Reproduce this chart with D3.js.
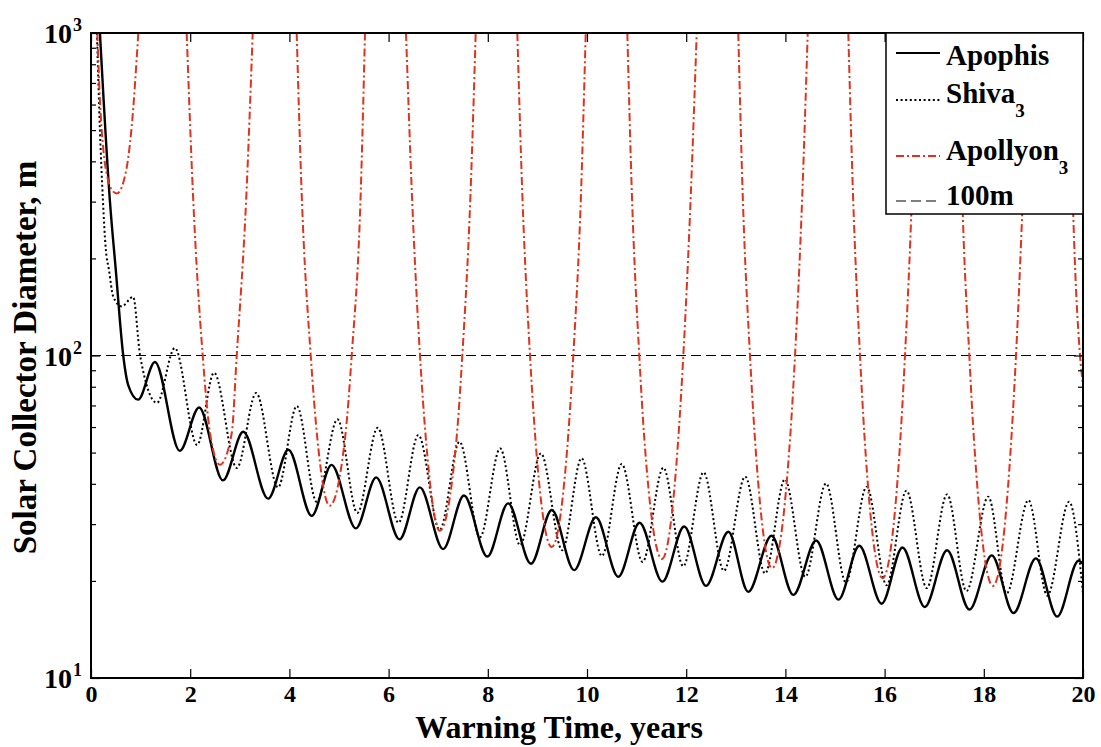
<!DOCTYPE html>
<html>
<head>
<meta charset="utf-8">
<script src="https://cdnjs.cloudflare.com/ajax/libs/d3/7.8.5/d3.min.js"></script>
<style>
  body { margin: 0; background: #fff; }
  text { font-family: "Liberation Serif", "Times New Roman", serif; font-weight: bold; fill: #000; }
</style>
</head>
<body>
<div id="chart"></div>
<script>
// warning time (years) and solar collector diameter (m)

var apophisT = [0.18, 0.38, 0.50, 0.65, 0.75, 0.95, 1.29, 1.79, 2.18, 2.66, 3.07, 3.57, 3.98, 4.45, 4.85, 5.34, 5.75, 6.22, 6.63, 7.10,
  7.52, 7.99, 8.41, 8.87, 9.29, 9.74, 10.18, 10.63, 11.06, 11.52, 11.96, 12.40, 12.85, 13.25, 13.72, 14.16, 14.62, 15.07, 15.49, 15.94,
  16.36, 16.81, 17.26, 17.71, 18.16, 18.60, 19.05, 19.48, 19.91, 20.0];
var apophisD = [1000, 303, 184, 100, 81, 73, 95.5, 50.6, 69, 41, 58, 36, 51, 31.8, 45.8, 29.1, 41.9, 26.9, 39.0, 25.1,
  36.8, 23.8, 34.8, 22.6, 33.2, 21.6, 31.5, 20.6, 30.3, 19.9, 29.5, 19.3, 28.4, 18.5, 27.6, 18.1, 26.7, 17.5, 25.7, 17.0,
  25.4, 16.6, 24.9, 16.3, 24.0, 15.9, 23.5, 15.5, 23.1, 22.6];

var shivaT = [0.12, 0.18, 0.24, 0.30, 0.36, 0.45, 0.62, 0.85, 0.99, 1.33, 1.69, 2.14, 2.48, 2.94, 3.33, 3.77, 4.15, 4.55, 4.97, 5.37,
  5.78, 6.20, 6.60, 7.03, 7.43, 7.84, 8.25, 8.65, 9.07, 9.50, 9.89, 10.30, 10.70, 11.12, 11.54, 11.94, 12.35, 12.76, 13.19, 13.59,
  13.99, 14.40, 14.82, 15.22, 15.64, 16.04, 16.44, 16.85, 17.26, 17.65, 18.09, 18.46, 18.90, 19.28, 19.72, 20.0];
var shivaD = [1000, 500, 303, 212, 185, 152, 142, 152, 100, 71.3, 105.5, 52.8, 88.4, 44.8, 76.5, 39.0, 69.7, 35.2, 63.4, 32.5,
  59.7, 30.3, 56.7, 28.8, 54.0, 27.3, 51.5, 25.8, 49.7, 24.9, 48.0, 23.9, 46.1, 22.9, 44.9, 22.2, 43.4, 21.5, 42.1, 21.1,
  41.3, 20.6, 40.1, 19.8, 39.2, 19.4, 38.1, 19.0, 37.1, 18.6, 36.5, 18.3, 35.6, 18.0, 35.2, 18.3];

// Apollyon leaves the plot above 10^3, null marks a break between the dips
var apollyonT = [0.127, 0.18, 0.25, 0.33, 0.42, 0.52, 0.665, 0.753, 0.82, 0.954, null,
  1.929, 2.056, 2.252, 2.40, 2.60, 2.837, 2.938, 3.133, 3.26, null,
  4.147, 4.248, 4.43, 4.56, 4.81, 5.125, 5.256, 5.437, 5.524, null,
  6.351, 6.47, 6.633, 6.748, 7.03, 7.373, 7.486, 7.651, 7.756, null,
  8.595, 8.696, 8.851, 8.956, 9.288, 9.619, 9.724, 9.879, 9.974, null,
  10.813, 10.905, 11.054, 11.153, 11.512, 11.843, 11.942, 12.093, 12.212, null,
  13.05, 13.139, 13.286, 13.383, 13.73, 14.097, 14.194, 14.341, 14.45, null,
  15.268, 15.363, 15.504, 15.595, 15.96, 16.321, 16.411, 16.552, 16.647, null,
  17.49, 17.565, 17.708, 17.798, 18.185, 18.558, 18.649, 18.79, 18.911, null,
  19.718, 19.792, 19.94, 20.0];
var apollyonD = [1000, 619, 433, 358, 326, 318, 350, 413, 512, 1000, null,
  1000, 316, 100, 57.4, 45.8, 57.4, 100, 316, 1000, null,
  1000, 316, 100, 56, 34.2, 56, 100, 316, 1000, null,
  1000, 316, 100, 56, 28.6, 56, 100, 316, 1000, null,
  1000, 316, 100, 56, 25.5, 56, 100, 316, 1000, null,
  1000, 316, 100, 56, 23.4, 56, 100, 316, 1000, null,
  1000, 316, 100, 56, 21.9, 56, 100, 316, 1000, null,
  1000, 316, 100, 56, 20.4, 56, 100, 316, 1000, null,
  1000, 316, 100, 56, 19.3, 56, 100, 316, 1000, null,
  1000, 316, 100, 81];

var limitD = 100;

var xTicks = [0, 2, 4, 6, 8, 10, 12, 14, 16, 18, 20];
var yMajor = [10, 100, 1000];
var yMinor = [20, 30, 40, 50, 60, 70, 80, 90, 200, 300, 400, 500, 600, 700, 800, 900];

var legendNames = ["Apophis", "Shiva", "Apollyon", "100m"];
var legendSubs = ["", "3", "3", ""];

var W = 1101, H = 747;
var margin = { top: 33, right: 18, bottom: 69, left: 91 };
var width = W - margin.left - margin.right;
var height = H - margin.top - margin.bottom;

var red = "#e2321c";

var styles = [
  { stroke: "#000", width: 2.4, dash: null },
  { stroke: "#000", width: 2, dash: "2,2.6" },
  { stroke: red, width: 2, dash: "8,3,2,3" },
  { stroke: "#000", width: 1.2, dash: "10,5" }
];

function pairs(ts, ds) {
  return ts.map(function(t, i) { return { t: t, d: ds[i] }; });
}

var svg = d3.select("#chart").append("svg")
  .attr("width", W)
  .attr("height", H)
  .append("g")
  .attr("transform", "translate(" + margin.left + "," + margin.top + ")");

var x = d3.scaleLinear().domain([0, 20]).range([0, width]);
var y = d3.scaleLog().domain([10, 1000]).range([height, 0]);

svg.append("clipPath").attr("id", "plotclip")
  .append("rect").attr("width", width).attr("height", height);

var line = d3.line()
  .defined(function(d) { return d.t != null && d.d != null; })
  .x(function(d) { return x(d.t); })
  .y(function(d) { return y(d.d); })
  .curve(d3.curveMonotoneX);

var plot = svg.append("g").attr("clip-path", "url(#plotclip)");

// 100 m reference
plot.append("line")
  .attr("x1", 0).attr("x2", width)
  .attr("y1", y(limitD)).attr("y2", y(limitD))
  .attr("stroke", styles[3].stroke)
  .attr("stroke-width", styles[3].width)
  .attr("stroke-dasharray", styles[3].dash);

var series = [pairs(apophisT, apophisD), pairs(shivaT, shivaD), pairs(apollyonT, apollyonD)];

series.forEach(function(s, i) {
  plot.append("path")
    .datum(s)
    .attr("d", line)
    .attr("fill", "none")
    .attr("stroke", styles[i].stroke)
    .attr("stroke-width", styles[i].width)
    .attr("stroke-dasharray", styles[i].dash)
    .attr("stroke-linejoin", "round");
});

// axes, ticks pointing inwards
svg.append("g")
  .attr("class", "axis")
  .attr("transform", "translate(0," + height + ")")
  .call(d3.axisBottom(x).tickValues(xTicks).tickSize(-9).tickPadding(7).tickFormat(d3.format("d")));

svg.append("g")
  .attr("class", "axis")
  .call(d3.axisTop(x).tickValues(xTicks).tickSize(-9).tickFormat(""));

svg.append("g")
  .attr("class", "axis")
  .call(d3.axisLeft(y).tickValues(yMinor).tickSize(-5).tickFormat(""));
svg.append("g")
  .attr("class", "axis")
  .call(d3.axisLeft(y).tickValues(yMajor).tickSize(-9).tickFormat(""));
svg.append("g")
  .attr("class", "axis")
  .attr("transform", "translate(" + width + ",0)")
  .call(d3.axisRight(y).tickValues(yMinor).tickSize(-5).tickFormat(""));
svg.append("g")
  .attr("class", "axis")
  .attr("transform", "translate(" + width + ",0)")
  .call(d3.axisRight(y).tickValues(yMajor).tickSize(-9).tickFormat(""));

svg.selectAll(".axis .domain").remove();
svg.selectAll(".axis line").attr("stroke", "#000").attr("stroke-width", 1.2);
svg.selectAll(".axis text")
  .style("font-family", "'Liberation Serif', 'Times New Roman', serif")
  .style("font-weight", "bold")
  .style("font-size", "24px")
  .attr("fill", "#000");

svg.append("rect")
  .attr("width", width)
  .attr("height", height)
  .attr("fill", "none")
  .attr("stroke", "#000")
  .attr("stroke-width", 2);

// log labels 10^n
var yLab = svg.selectAll(".ylab").data(yMajor).enter().append("g").attr("class", "ylab");
yLab.append("text")
  .attr("x", -19)
  .attr("y", function(d) { return y(d) + 10; })
  .attr("text-anchor", "end")
  .style("font-size", "28px")
  .text("10");
yLab.append("text")
  .attr("x", -18)
  .attr("y", function(d) { return y(d) - 2; })
  .style("font-size", "18px")
  .text(function(d) { return Math.round(Math.log10(d)); });

// axis titles
svg.append("text")
  .attr("x", width / 2 - 28)
  .attr("y", height + 60)
  .attr("text-anchor", "middle")
  .style("font-size", "32px")
  .text("Warning Time, years");

svg.append("text")
  .attr("transform", "translate(-55," + (height / 2 + 2) + ") rotate(-90)")
  .attr("text-anchor", "middle")
  .style("font-size", "33px")
  .text("Solar Collector Diameter, m");

// legend
var lgX = x(20) - 197, lgW = 197, lgH = 181;
var legend = svg.append("g").attr("transform", "translate(" + lgX + ",0)");
legend.append("rect")
  .attr("width", lgW).attr("height", lgH)
  .attr("fill", "#fff").attr("stroke", "#000").attr("stroke-width", 1.5);

var rowLine = [20, 67, 123, 168];
var rowText = [32, 70, 127, 172];

legendNames.forEach(function(name, i) {
  legend.append("line")
    .attr("x1", 10).attr("x2", 54)
    .attr("y1", rowLine[i]).attr("y2", rowLine[i])
    .attr("stroke", styles[i].stroke)
    .attr("stroke-width", i == 3 ? 1.2 : 2)
    .attr("stroke-dasharray", styles[i].dash);
  var t = legend.append("text")
    .attr("x", 60)
    .attr("y", rowText[i])
    .style("font-size", "29px")
    .text(name);
  if (legendSubs[i]) {
    t.append("tspan")
      .attr("dy", 14)
      .style("font-size", "19px")
      .text(legendSubs[i]);
  }
});
</script>
</body>
</html>
